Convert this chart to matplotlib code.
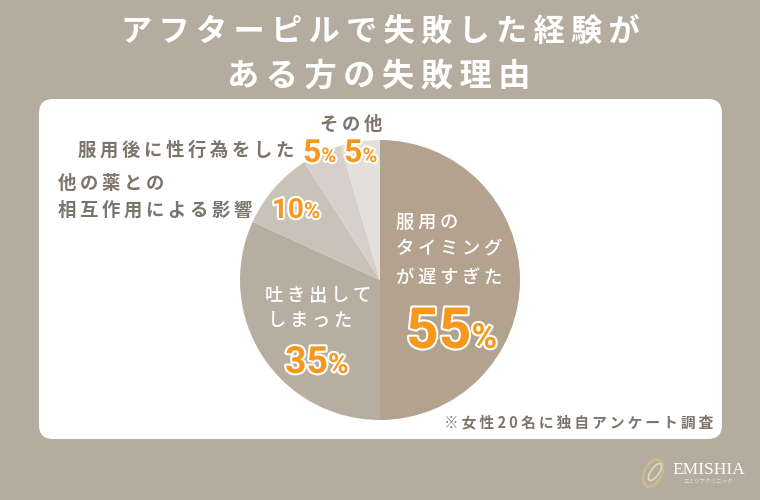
import matplotlib
matplotlib.use("Agg")
import matplotlib.pyplot as plt
import matplotlib.patheffects as pe
from matplotlib.patches import FancyBboxPatch, Ellipse

TS = "\u2009"  # letter spacing

title_lines = ["アフターピルで失敗した経験が", "ある方の失敗理由"]
categories = ["服用のタイミングが遅すぎた", "吐き出してしまった", "他の薬との相互作用による影響", "服用後に性行為をした", "その他"]
values = [55, 35, 10, 5, 5]
note_parts = ["※女性", "20", "名に独自アンケート調査"]

bg = "#b5aca0"
slice_colors = ["#b3a28e", "#b7ada0", "#c9c2b9", "#d6d0ca", "#e3e0dc"]
gray = "#7d746b"
orange = "#f7981d"
jp = ["Noto Sans CJK JP", "DejaVu Sans"]
num = ["Roboto", "DejaVu Sans"]


def spaced(s):
    return TS.join(s)


def y_(py):
    return 500 - py


fig = plt.figure(figsize=(7.6, 5), dpi=100, facecolor=bg)
ax = fig.add_axes([0, 0, 1, 1])

card = FancyBboxPatch((53, y_(425)), 655, 312, boxstyle="round,pad=14,rounding_size=14",
                      mutation_aspect=1, fc="white", ec="white", lw=0)
ax.add_patch(card)

ax.pie(values, colors=slice_colors, startangle=90, counterclock=False,
       center=(380, y_(280)), radius=140, wedgeprops={"linewidth": 0}, frame=False)
ax.set_xlim(0, 760)
ax.set_ylim(0, 500)
ax.set_aspect("auto")
ax.axis("off")


def label(x, py, s, color=gray, size=13.2, ha="left", weight="bold"):
    ax.text(x, y_(py + 2), spaced(s), color=color, fontsize=size, ha=ha, va="center",
            family=jp, fontweight=weight)


def pct(x, py, val, size, pct_size):
    # x = left edge of digits, py = baseline
    stroke = [pe.withStroke(linewidth=3, foreground="white")]
    t = ax.text(x, y_(py), str(val), color=orange, fontsize=size, family=num, fontweight="bold",
                ha="left", va="baseline", path_effects=stroke)
    fig.canvas.draw()
    bb = t.get_window_extent()
    ax.text(bb.x1, y_(py), "%", color=orange, fontsize=pct_size, family=num,
            fontweight="bold", ha="left", va="baseline", path_effects=stroke)


# title
ax.text(380, y_(33), spaced(title_lines[0]), color="white", fontsize=22.5, family=jp,
        fontweight="bold", ha="center", va="center")
ax.text(379, y_(76), spaced(title_lines[1]), color="white", fontsize=23.2, family=jp,
        fontweight="bold", ha="center", va="center")

# slice labels
label(396, 221, "服用の", color="white", weight="medium")
label(396, 248, "タイミング", color="white", weight="medium")
label(396, 276, "が遅すぎた", color="white", weight="medium")
label(265, 294, "吐き出して", color="white", weight="medium")
label(268, 319, "しまった", color="white", weight="medium")
label(58, 181, "他の薬との")
label(58, 208, "相互作用による影響")
label(78, 148, "服用後に性行為をした")
label(320, 122, "その他")

pct(406, 348, values[0], 41, 25)
pct(285, 373, values[1], 27, 20)
pct(272, 218, values[2], 20, 16)
pct(303, 162, values[3], 23, 14.5)
pct(344, 162, values[4], 23, 14.5)

ax.text(444, y_(422), " ".join(spaced(p) for p in note_parts), color=gray, fontsize=10.6,
        family=jp, fontweight="bold", ha="left", va="center")

# logo
ax.add_patch(Ellipse((653, y_(473)), 17, 29, angle=-25, fc="none", ec="#cdb78f", lw=2.2))
ax.add_patch(Ellipse((655, y_(472)), 8, 20, angle=-35, fc="none", ec="#e6d9bd", lw=1.2))
ax.text(672, y_(470), "EMISHIA", color="white", fontsize=12.5, family="Liberation Serif",
        ha="left", va="center")
ax.text(708, y_(482), "エミシアクリニック", color="#e8e3dc", fontsize=4, family=jp,
        ha="center", va="center")

fig.savefig("out.png", dpi=100, facecolor=bg)
plt.close(fig)
